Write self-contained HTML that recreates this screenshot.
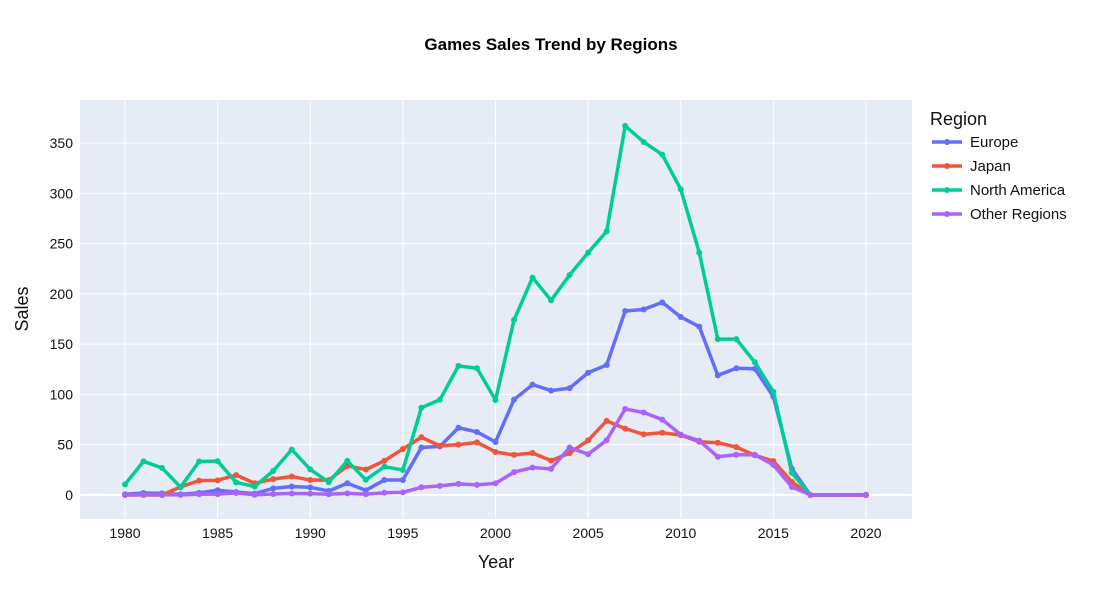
<!DOCTYPE html>
<html><head><meta charset="utf-8"><style>
body{margin:0;background:#fff;font-family:"Liberation Sans",Arial,sans-serif;}
svg text{font-family:"Liberation Sans",Arial,sans-serif;}
</style></head><body>
<svg id="c" width="1102" height="600" xmlns="http://www.w3.org/2000/svg">
<rect width="1102" height="600" fill="#fff"/>
<text x="551" y="50" text-anchor="middle" font-size="17" font-weight="bold" fill="#000">Games Sales Trend by Regions</text>
<rect x="80" y="100" width="832" height="419" fill="#e5ecf6"/>
<g id="grid"></g><g id="series"></g>
<text x="496" y="568" text-anchor="middle" font-size="18" fill="#111">Year</text>
<text transform="translate(28,309) rotate(-90)" text-anchor="middle" font-size="18" fill="#111">Sales</text>
<g id="legend"></g>
</svg>
<script>
const years=[1980,1981,1982,1983,1984,1985,1986,1987,1988,1989,1990,1991,1992,1993,1994,1995,1996,1997,1998,1999,2000,2001,2002,2003,2004,2005,2006,2007,2008,2009,2010,2011,2012,2013,2014,2015,2016,2017,2020];
const europe=[0.67,1.96,1.65,0.8,2.1,4.74,2.84,1.41,6.59,8.44,7.63,3.95,11.71,4.65,14.88,14.9,47.26,48.32,66.9,62.67,52.75,94.89,109.74,103.81,106.3,121.55,129.24,183,184.5,191.5,177,167.4,119,126,125.5,97.7,26,0,0];
const japan=[0,0,0,8.1,14.27,14.56,19.81,11.63,15.76,18.36,14.88,14.78,28.91,25.33,33.99,45.75,57.44,48.87,50.04,52.34,42.77,39.86,41.76,34.2,41.65,54.28,73.73,66,60.3,61.9,59.5,53,52,47.6,39.5,33.7,13,0.05,0];
const northAmerica=[10.59,33.4,26.92,7.76,33.28,33.73,12.5,8.46,23.87,45.15,25.46,12.76,33.87,15.12,28.15,24.82,86.76,94.75,128.36,126.06,94.49,173.98,216.19,193.59,218.72,240.96,262.12,367,351,338.5,304,241,155,155,132,102.5,22,0,0.27];
const other=[0.12,0.32,0.31,0.14,0.7,0.92,1.93,0.2,0.99,1.5,1.4,0.74,1.65,0.89,2.2,2.64,7.69,9.13,11.03,10.05,11.62,22.76,27.28,26.01,47.26,40.58,54.4,85.5,82,75,60,54,38,40,40,30,8,0,0];
const seriesNames=["Europe","Japan","North America","Other Regions"];
const xTicks=[1980,1985,1990,1995,2000,2005,2010,2015,2020];
const yTicks=[0,50,100,150,200,250,300,350];
const NS="http://www.w3.org/2000/svg";
const X=v=>125+(v-1980)*18.525;
const Y=v=>495-v*1.00571;
function mk(t,a,p){const e=document.createElementNS(NS,t);for(const k in a)e.setAttribute(k,a[k]);p.appendChild(e);return e;}
const g=document.getElementById('grid');
xTicks.forEach(t=>{
 const l=mk('line',{x1:X(t),x2:X(t),y1:100,y2:519,stroke:'#fff','stroke-width':1},g);
 
 
 const tx=mk('text',{x:X(t),y:538,'text-anchor':'middle','font-size':14,fill:'#111'},g);tx.textContent=t;
 
 
});
yTicks.forEach(t=>{
 const l=mk('line',{x1:80,x2:912,y1:Y(t),y2:Y(t),stroke:'#fff','stroke-width':t===0?2:1},g);
 
 
 const tx=mk('text',{x:73,y:Y(t)+5,'text-anchor':'end','font-size':14,fill:'#111'},g);tx.textContent=t;
 
 
});
const colors=['#636efa','#EF553B','#00cc96','#ab63fa'];
const data=[europe,japan,northAmerica,other];
const sg=document.getElementById('series');
data.forEach((d,i)=>{
 const grp=mk('g',{},sg);
 
 
 mk('polyline',{points:years.map((y,j)=>X(y)+','+Y(d[j])).join(' '),fill:'none',stroke:colors[i],'stroke-width':3.5,'stroke-linejoin':'round'},grp);
 years.forEach((y,j)=>{
  const c=mk('circle',{cx:X(y),cy:Y(d[j]),r:3,fill:colors[i]},grp);
  
  
 });
});
const lg=document.getElementById('legend');
const lt=mk('text',{x:930,y:125,'font-size':18,fill:'#111'},lg);lt.textContent='Region';


seriesNames.forEach((n,i)=>{
 const yy=142+i*24;
 const e=mk('g',{},lg);
 
 
 mk('line',{x1:932,x2:962,y1:yy,y2:yy,stroke:colors[i],'stroke-width':3.5},e);
 mk('circle',{cx:947,cy:yy,r:3,fill:colors[i]},e);
 const t=mk('text',{x:970,y:yy+5,'font-size':15,fill:'#111'},e);t.textContent=n;
});
</script>
</body></html>
